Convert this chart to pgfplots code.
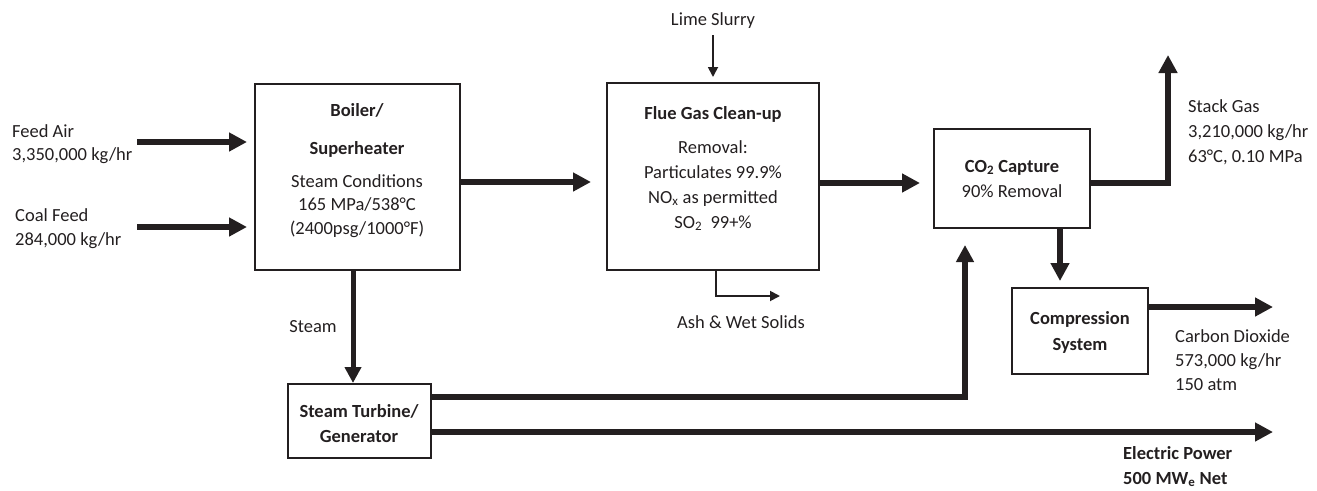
\documentclass[border=0pt]{standalone}
\usepackage{pgfplots}
\pgfplotsset{compat=1.18}
\usepackage{fontspec}
\setmainfont{Carlito}
\usetikzlibrary{arrows.meta}
\definecolor{ink}{HTML}{231F20}
\tikzset{lbl/.style={font=\fontsize{18.5}{22}\selectfont, text=ink, inner sep=0pt}}
\begin{document}
\begin{tikzpicture}
\begin{axis}[
  width=1317pt, height=490pt, scale only axis,
  xmin=0, xmax=1317, ymin=0, ymax=490, y dir=reverse,
  axis lines=none, clip=false,
]
\addplot[draw=none, forget plot] coordinates {(0,0) (1317,490)};
% boxes
\addplot[ink, line width=1.4pt, line join=miter] coordinates {(255,84) (460,84) (460,270) (255,270)} -- cycle;
\addplot[ink, line width=1.4pt, line join=miter] coordinates {(607,83) (819,83) (819,270) (607,270)} -- cycle;
\addplot[ink, line width=1.4pt, line join=miter] coordinates {(934,129) (1090,129) (1090,228) (934,228)} -- cycle;
\addplot[ink, line width=1.4pt, line join=miter] coordinates {(1012,288) (1148,288) (1148,374) (1012,374)} -- cycle;
\addplot[ink, line width=1.4pt, line join=miter] coordinates {(288,384) (431,384) (431,458) (288,458)} -- cycle;
% thick arrows
\pgfplotsset{thick arrow/.style={ink, line width=6.5pt, line join=miter, -{Triangle[length=18pt,width=18pt]}}}
\addplot[thick arrow] coordinates {(137,142) (247,142)};
\addplot[thick arrow] coordinates {(137,227) (247,227)};
\addplot[thick arrow] coordinates {(460,182) (591,182)};
\addplot[thick arrow] coordinates {(819,183) (920,183)};
\addplot[thick arrow] coordinates {(1090,183) (1168,183) (1168,55)};
\addplot[thick arrow] coordinates {(1060,228) (1060,281)};
\addplot[thick arrow] coordinates {(1148,307) (1273,307)};
\addplot[ink, line width=5pt, -{Triangle[length=16pt,width=16pt]}] coordinates {(353,270) (353,383)};
\addplot[ink, line width=5.5pt, line join=miter, -{Triangle[length=17pt,width=17pt]}] coordinates {(431,397) (965,397) (965,245)};
\addplot[thick arrow] coordinates {(431,432) (1273,432)};
% thin arrows
\addplot[ink, line width=1.8pt, -{Triangle[length=10pt,width=10pt]}] coordinates {(713,35) (713,77)};
\addplot[ink, line width=1.8pt, line join=miter, -{Triangle[length=10pt,width=10pt]}] coordinates {(716,270) (716,296) (780,296)};
% labels
\node[lbl, anchor=base west] at (axis cs:12,137) {Feed Air};
\node[lbl, anchor=base west] at (axis cs:12,160) {3,350,000 kg/hr};
\node[lbl, anchor=base west] at (axis cs:15,221) {Coal Feed};
\node[lbl, anchor=base west] at (axis cs:15,245) {284,000 kg/hr};
\node[lbl, anchor=base] at (axis cs:357,116) {\bfseries Boiler/};
\node[lbl, anchor=base] at (axis cs:357,154) {\bfseries Superheater};
\node[lbl, anchor=base] at (axis cs:357,187) {Steam Conditions};
\node[lbl, anchor=base] at (axis cs:357,210) {165 MPa/538°C};
\node[lbl, anchor=base] at (axis cs:357,234) {(2400psg/1000°F)};
\node[lbl, anchor=base] at (axis cs:713,25) {Lime Slurry};
\node[lbl, anchor=base] at (axis cs:713,119) {\bfseries Flue Gas Clean-up};
\node[lbl, anchor=base] at (axis cs:713,153) {Removal:};
\node[lbl, anchor=base] at (axis cs:713,178) {Particulates 99.9\%};
\node[lbl, anchor=base] at (axis cs:713,203) {NO\textsubscript{x} as permitted};
\node[lbl, anchor=base] at (axis cs:713,228) {SO\textsubscript{2}\ \ 99+\%};
\node[lbl, anchor=base] at (axis cs:741,328) {Ash \& Wet Solids};
\node[lbl, anchor=base] at (axis cs:313,332) {Steam};
\node[lbl, anchor=base] at (axis cs:1012,172) {\bfseries CO\textsubscript{2} Capture};
\node[lbl, anchor=base] at (axis cs:1012,197) {90\% Removal};
\node[lbl, anchor=base west] at (axis cs:1188,112) {Stack Gas};
\node[lbl, anchor=base west] at (axis cs:1188,137) {3,210,000 kg/hr};
\node[lbl, anchor=base west] at (axis cs:1188,162) {63°C, 0.10 MPa};
\node[lbl, anchor=base] at (axis cs:1080,324) {\bfseries Compression};
\node[lbl, anchor=base] at (axis cs:1080,350) {\bfseries System};
\node[lbl, anchor=base west] at (axis cs:1175,342) {Carbon Dioxide};
\node[lbl, anchor=base west] at (axis cs:1175,366) {573,000 kg/hr};
\node[lbl, anchor=base west] at (axis cs:1175,390) {150 atm};
\node[lbl, anchor=base] at (axis cs:359,417) {\bfseries Steam Turbine/};
\node[lbl, anchor=base] at (axis cs:359,442) {\bfseries Generator};
\node[lbl, anchor=base west] at (axis cs:1123,459) {\bfseries Electric Power};
\node[lbl, anchor=base west] at (axis cs:1123,484) {\bfseries 500 MW\textsubscript{e} Net};
\end{axis}
\end{tikzpicture}
\end{document}
